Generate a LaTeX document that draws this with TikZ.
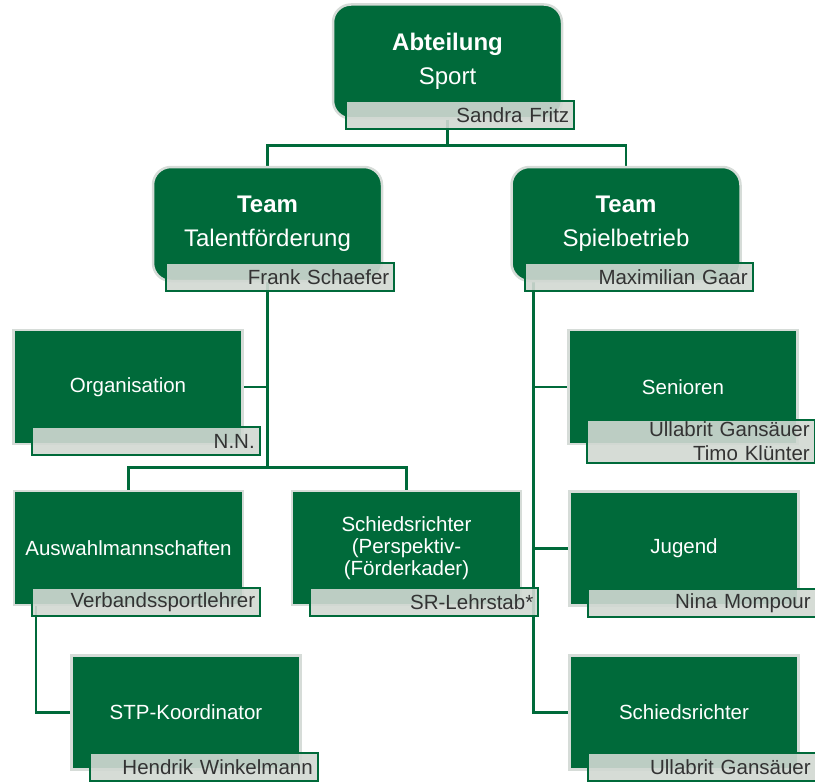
\documentclass[tikz,border=0pt]{standalone}
\usepackage{fontspec}
\setmainfont{Liberation Sans}
\usetikzlibrary{
    backgrounds,
    calc
}
\definecolor{orggreen}{RGB}{0,106,58}
\definecolor{unitrim}{RGB}{214,220,216}
\definecolor{namefill}{RGB}{209,216,210}
\definecolor{nametext}{RGB}{51,51,51}

\begin{document}
\begin{tikzpicture}[
    x=1pt, y=-1pt,
    unit/.style={
      draw=unitrim,
      line width=2.5pt,
      fill=orggreen,
      text=white,
      minimum width=229pt,
      minimum height=114pt,
      align=center,
      font=\fontsize{20.5}{22}\selectfont
    },
    team/.style={
      unit,
      rounded corners=18pt,
      font=\fontsize{24}{34}\selectfont
    },
    namebox/.style={
      draw=orggreen,
      line width=2pt,
      fill=namefill,
      fill opacity=0.9,
      text opacity=1,
      text=nametext,
      text width=218pt,
      inner xsep=5pt,
      inner ysep=2pt,
      minimum height=28pt,
      align=right,
      anchor=east,
      font=\fontsize{20.5}{24}\selectfont
    },
    holder/.style={
      namebox,
      xshift=17pt,
      yshift=4pt
    },
    teamholder/.style={
      namebox,
      xshift=12pt,
      yshift=5pt
    },
    link/.style={
      draw=orggreen,
      line width=2.5pt
    }
  ]

  \useasboundingbox (0,0) rectangle (815,784);

  % Abteilung {{{
  \node[team] (abt) at (447.5,61.5)
  {{\bfseries Abteilung}\\Sport};
  \node[teamholder] (abt-name) at (abt.south east) {Sandra Fritz};
  % }}}

  % Team Talentfoerderung {{{
  \node[team] (talent) at (267.5,224)
  {{\bfseries Team}\\Talentförderung};
  \node[teamholder] (talent-name) at (talent.south east) {Frank Schaefer};

    % Organisation {{{
    \node[unit] (orga) at (128,387) {Organisation};
    \node[holder] (orga-name) at (orga.south east) {N.N.};
    % }}}
    % Auswahlmannschaften {{{
    \node[unit] (auswahl) at (128.5,548) {Auswahlmannschaften};
    \node[holder] (auswahl-name) at (auswahl.south east) {Verbandssportlehrer};
    % }}}
    % Schiedsrichter Perspektivkader {{{
    \node[unit] (schieds) at (406.5,548)
    {Schiedsrichter\\(Perspektiv-\\(Förderkader)};
    \node[holder] (schieds-name) at (schieds.south east) {SR-Lehrstab*};
    % }}}
    % STP-Koordinator {{{
    \node[unit] (stp) at (186,712.5) {STP-Koordinator};
    \node[holder] (stp-name) at (stp.south east) {Hendrik Winkelmann};
    % }}}
  % }}}

  % Team Spielbetrieb {{{
  \node[team] (spiel) at (626,224)
  {{\bfseries Team}\\Spielbetrieb};
  \node[teamholder] (spiel-name) at (spiel.south east) {Maximilian Gaar};

    % Senioren {{{
    \node[unit] (senioren) at (683,387) {Senioren};
    \node[holder] (senioren-name) at (senioren.south east)
    {Ullabrit Gansäuer\\Timo Klünter};
    % }}}
    % Jugend {{{
    \node[unit] (jugend) at (684,548.5) {Jugend};
    \node[holder] (jugend-name) at (jugend.south east) {Nina Mompour};
    % }}}
    % Schiedsrichter {{{
    \node[unit] (sr) at (684,712.5) {Schiedsrichter};
    \node[holder] (sr-name) at (sr.south east) {Ullabrit Gansäuer};
    % }}}
  % }}}

  % connectors {{{
  \begin{scope}[on background layer]
    \draw[link] (abt.south) -- ++(0,26) -| (talent.north);
    \draw[link] (abt.south) -- ++(0,26) -| (spiel.north);

    \draw[link] (talent.south) |- (orga.east);
    \draw[link] (talent.south) -- ++(0,185) -| (auswahl.north);
    \draw[link] (talent.south) -- ++(0,185) -| (schieds.north);
    \draw[link] ([xshift=23pt]auswahl.south west) |- (stp.west);

    \coordinate (spiel-stem) at ([xshift=23pt]spiel.south west);
    \draw[link] (spiel-stem) |- (senioren.west);
    \draw[link] (spiel-stem) |- (jugend.west);
    \draw[link] (spiel-stem) |- (sr.west);
  \end{scope}
  % }}}

\end{tikzpicture}
\end{document}
